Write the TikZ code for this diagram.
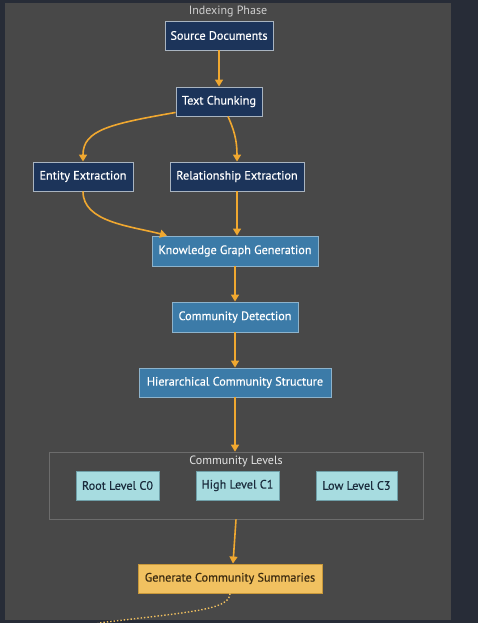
\documentclass[tikz,border=0pt]{standalone}
\usepackage{fontspec}
\setmainfont{PT Sans}
\newfontfamily\boxfont{PT Sans}[FakeBold=0.4]
\usetikzlibrary{arrows.meta}
\definecolor{outerbg}{HTML}{272C37}
\definecolor{panel}{HTML}{484848}
\definecolor{navy}{HTML}{1C345A}
\definecolor{navyline}{HTML}{A9B4C0}
\definecolor{steel}{HTML}{3C7BA8}
\definecolor{steelline}{HTML}{8DB3CC}
\definecolor{cyanfill}{HTML}{A7DCE0}
\definecolor{cyanline}{HTML}{6F9FA8}
\definecolor{cyantext}{HTML}{1A2B3C}
\definecolor{yel}{HTML}{F1C160}
\definecolor{yelline}{HTML}{C8983A}
\definecolor{yeltext}{HTML}{3A2A10}
\definecolor{arrowc}{HTML}{F0A830}
\definecolor{titlec}{HTML}{CFCFCF}
\definecolor{grpline}{HTML}{6C6C6C}
\tikzset{
  box/.style={draw, line width=0.9pt, inner sep=0pt, font=\boxfont\fontsize{12.2}{14}\selectfont},
  navybox/.style={box, fill=navy, draw=navyline, text=white},
  steelbox/.style={box, fill=steel, draw=steelline, text=white},
  cyanbox/.style={box, fill=cyanfill, draw=cyanline, text=cyantext},
  yelbox/.style={box, fill=yel, draw=yelline, text=yeltext},
  conn/.style={draw=arrowc, line width=1.6pt, -{Triangle[width=8pt,length=7pt]}},
  ttl/.style={text=titlec, font=\fontsize{12}{14}\selectfont, inner sep=0pt},
}
\newcommand{\pbox}[6]{\node[#1, minimum width=#4-#3, minimum height=#6-#5] (#2) at ({(#3+#4)/2},{(#5+#6)/2})}
\begin{document}
\begin{tikzpicture}[x=1pt,y=-1pt]
\useasboundingbox (0,0) rectangle (478,623);
\fill[outerbg] (0,0) rectangle (478,623);
\fill[panel] (5,3) rectangle (451,620);
\node[ttl] (title) at (228,12) {Indexing Phase};
\pbox{navybox}{src}{165}{273}{21}{50} {Source Documents};
\pbox{navybox}{tc}{176}{262}{87}{116} {Text Chunking};
\pbox{navybox}{ent}{33}{133}{162}{191} {Entity Extraction};
\pbox{navybox}{rel}{170}{304}{162}{191} {Relationship Extraction};
\pbox{steelbox}{kg}{152}{318}{236}{266} {Knowledge Graph Generation};
\pbox{steelbox}{cd}{172}{298}{302}{332} {Community Detection};
\pbox{steelbox}{hcs}{139}{331}{368}{397} {Hierarchical Community Structure};
\node[draw=grpline, line width=0.7pt, minimum width=374pt, minimum height=67pt, inner sep=0pt] (grp) at (236,485.5) {};
\node[ttl, text=white!90!black] (grptitle) at (236,461) {Community Levels};
\pbox{cyanbox}{c0}{76}{159}{471}{500} {Root Level C0};
\pbox{cyanbox}{c1}{196}{279}{471}{500} {High Level C1};
\pbox{cyanbox}{c3}{316}{397}{471}{500} {Low Level C3};
\pbox{yelbox}{gen}{138}{322}{564}{593} {Generate Community Summaries};
\coordinate (offend) at (98,623);
\draw[conn] (src) -- (tc);
\draw[conn] ([yshift=4pt]tc.south west) .. controls (110,124) and (83,130) .. (ent.north);
\draw[conn] (tc.south -| 228,0) .. controls (234,130) and (237,140) .. (rel.north);
\draw[conn] (ent.south) .. controls (83,222) and (130,226) .. (kg.north west -| 167,0);
\draw[conn] (rel) -- (kg.north -| rel.south);
\draw[conn] (kg) -- (cd);
\draw[conn] (cd) -- (hcs);
\draw[conn] (hcs) -- (grp.north -| hcs.south);
\draw[conn] (grp.south -| 236,0) -- (gen.north -| 233,0);
\draw[draw=yel, line width=1.4pt, dotted] (gen.south -| 230,0) .. controls (230,610) and (190,612) .. (offend);
\end{tikzpicture}
\end{document}
